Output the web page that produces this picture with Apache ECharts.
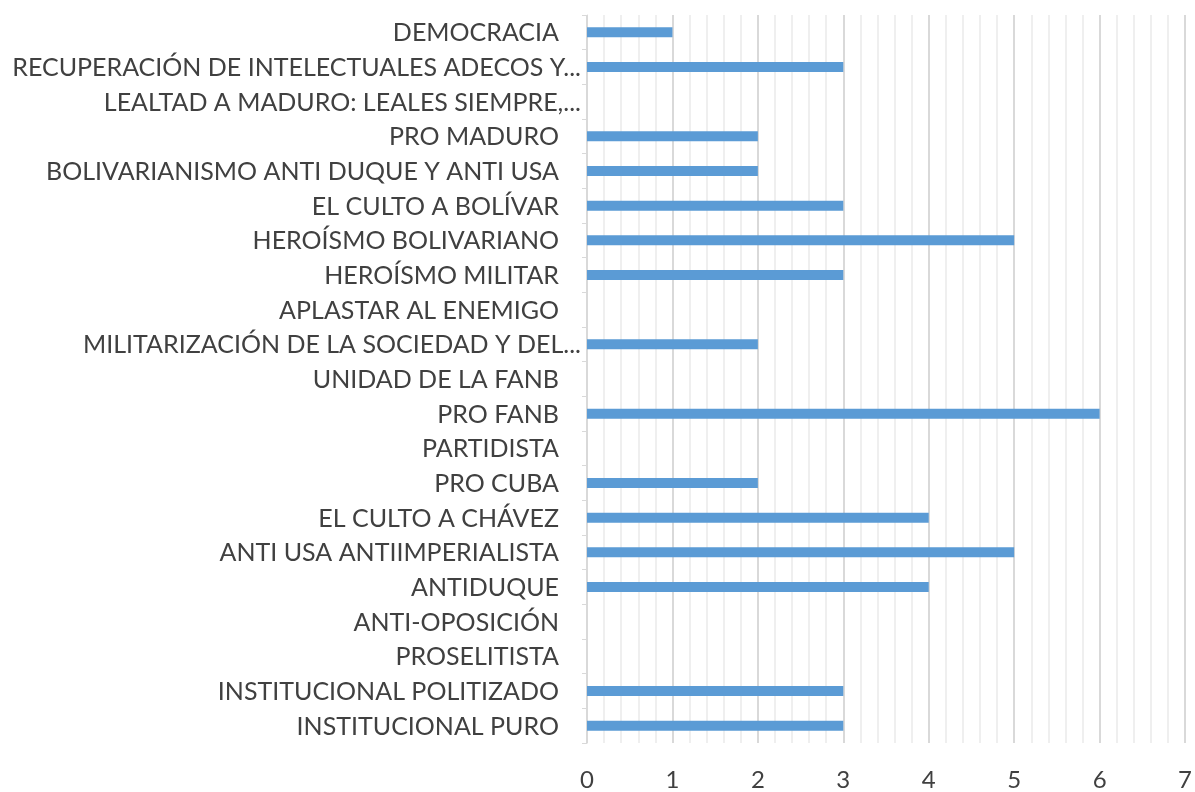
<!DOCTYPE html>
<html>
<head>
<meta charset="utf-8">
<script src="https://cdn.jsdelivr.net/npm/echarts@6/dist/echarts.min.js"></script>
<style>
  html, body { margin: 0; padding: 0; background: #fff; }
  #chart { width: 1195px; height: 792px; }
</style>
</head>
<body>
<div id="chart"></div>
<script>
// categories, bottom to top
const categories = [
    'INSTITUCIONAL PURO',
    'INSTITUCIONAL POLITIZADO',
    'PROSELITISTA',
    'ANTI-OPOSICIÓN',
    'ANTIDUQUE',
    'ANTI USA ANTIIMPERIALISTA',
    'EL CULTO A CHÁVEZ',
    'PRO CUBA',
    'PARTIDISTA',
    'PRO FANB',
    'UNIDAD DE LA FANB',
    'MILITARIZACIÓN DE LA SOCIEDAD Y DEL...',
    'APLASTAR AL ENEMIGO',
    'HEROÍSMO MILITAR',
    'HEROÍSMO BOLIVARIANO',
    'EL CULTO A BOLÍVAR',
    'BOLIVARIANISMO ANTI DUQUE Y ANTI USA',
    'PRO MADURO',
    'LEALTAD A MADURO: LEALES SIEMPRE,...',
    'RECUPERACIÓN DE INTELECTUALES ADECOS Y...',
    'DEMOCRACIA'
];
const values = [3, 3, 0, 0, 4, 5, 4, 2, 0, 6, 0, 2, 0, 3, 5, 3, 2, 2, 0, 3, 1];
const xTicks = [0, 1, 2, 3, 4, 5, 6, 7];

const labelFont = { color: '#404040', fontSize: 25, fontFamily: 'Lato', lineHeight: 30 };

const myChart = echarts.init(document.getElementById('chart'));
const option = {
    animation: false,
    grid: {
        left: 587,
        right: 9,
        top: 15,
        bottom: 43
    },
    xAxis: {
        type: 'value',
        min: xTicks[0],
        max: xTicks[xTicks.length - 1],
        interval: 1,
        axisLine: { show: false },
        axisTick: { show: false },
        axisLabel: {
            color: '#404040',
            fontSize: 24,
            fontFamily: 'Lato',
            margin: 25
        },
        splitLine: {
            show: true,
            lineStyle: { color: '#d9d9d9', width: 2 }
        },
        minorTick: { show: false, splitNumber: 5 },
        minorSplitLine: {
            show: true,
            lineStyle: { color: '#efefef', width: 2 }
        }
    },
    yAxis: {
        type: 'category',
        data: categories,
        axisLine: { show: true, lineStyle: { color: '#d9d9d9', width: 1 } },
        axisTick: { show: true, length: 5, lineStyle: { color: '#d9d9d9' } },
        axisLabel: {
            margin: 6,
            formatter: function (v) {
                // truncated labels run right up to the axis, the others keep a trailing gap
                return v.endsWith('...') ? '{t|' + v + '}' : '{n|' + v + '}';
            },
            rich: {
                t: Object.assign({ padding: [2, 0, 0, 0] }, labelFont),
                n: Object.assign({ padding: [2, 22, 0, 0] }, labelFont)
            }
        },
        splitLine: { show: false }
    },
    series: [
        {
            type: 'bar',
            data: values,
            barWidth: 10,
            itemStyle: { color: '#5b9bd5' }
        }
    ]
};
myChart.setOption(option);
</script>
</body>
</html>
